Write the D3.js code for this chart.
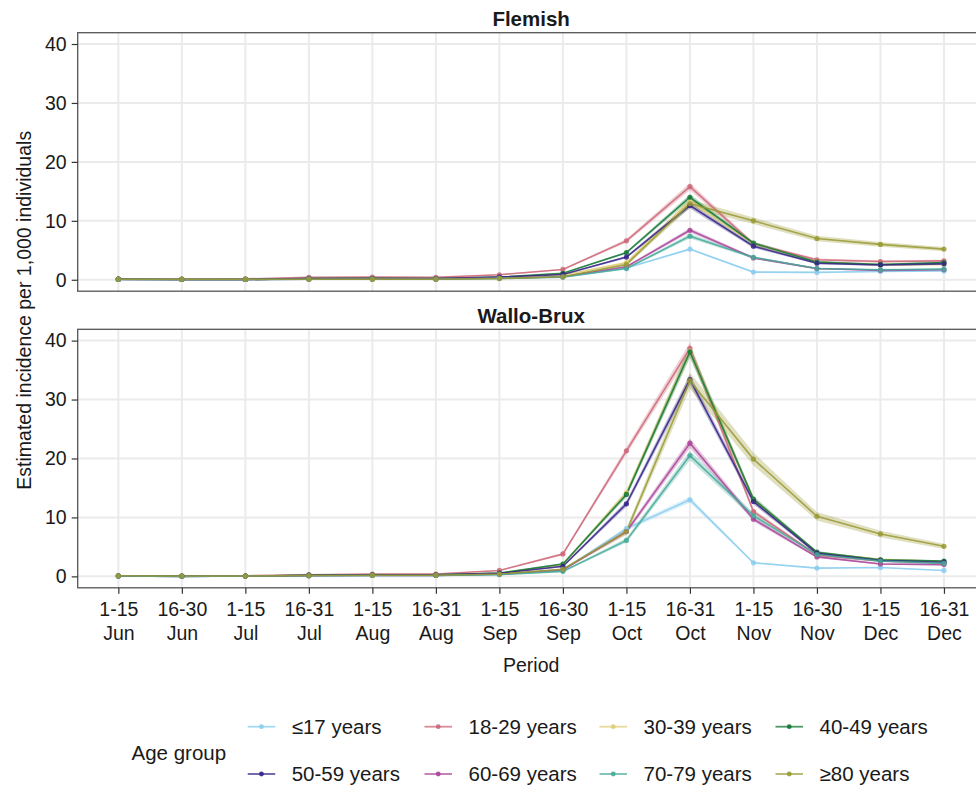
<!DOCTYPE html>
<html>
<head>
<meta charset="utf-8">
<script src="https://cdn.jsdelivr.net/npm/d3@7"></script>
<style>
  html, body { margin: 0; padding: 0; background: #fff; }
  svg { display: block; font-family: "Liberation Sans", Arial, Helvetica, sans-serif; }
</style>
</head>
<body>
<svg id="chart" width="976" height="787"></svg>
<script>
// Two-week periods (tick labels, two lines each)
const periods = ["1-15 Jun", "16-30 Jun", "1-15 Jul", "16-31 Jul", "1-15 Aug", "16-31 Aug",
                 "1-15 Sep", "16-30 Sep", "1-15 Oct", "16-31 Oct", "1-15 Nov", "16-30 Nov",
                 "1-15 Dec", "16-31 Dec"];
const regions = ["Flemish", "Wallo-Brux"];
const ageGroups = ["≤17 years", "18-29 years", "30-39 years", "40-49 years",
                   "50-59 years", "60-69 years", "70-79 years", "≥80 years"];
const yTicks = [0, 10, 20, 30, 40];

// Estimated incidence per 1,000, one array per age group (Flemish)
const flemish_u17   = [0.05, 0.05, 0.05, 0.10, 0.10, 0.10, 0.20, 0.50, 2.0, 5.2, 1.3, 1.25, 1.4, 1.5];
const flemish_18_29 = [0.10, 0.10, 0.15, 0.40, 0.45, 0.40, 0.85, 1.75, 6.6, 15.8, 6.1, 3.4, 3.1, 3.2];
const flemish_30_39 = [0.10, 0.05, 0.05, 0.20, 0.20, 0.20, 0.40, 0.80, 2.9, 13.3, 6.1, 3.0, 2.5, 2.6];
const flemish_40_49 = [0.10, 0.05, 0.05, 0.20, 0.25, 0.20, 0.45, 1.10, 4.6, 14.0, 6.2, 3.0, 2.6, 2.9];
const flemish_50_59 = [0.10, 0.05, 0.05, 0.20, 0.20, 0.20, 0.45, 0.90, 3.85, 12.6, 5.7, 2.8, 2.5, 2.7];
const flemish_60_69 = [0.05, 0.05, 0.05, 0.10, 0.15, 0.15, 0.30, 0.50, 2.2, 8.4, 3.7, 1.9, 1.6, 1.7];
const flemish_70_79 = [0.05, 0.05, 0.05, 0.10, 0.10, 0.10, 0.25, 0.45, 1.9, 7.4, 3.8, 1.9, 1.7, 1.8];
const flemish_80p   = [0.10, 0.10, 0.10, 0.10, 0.10, 0.10, 0.20, 0.50, 2.6, 12.9, 10.0, 7.0, 6.0, 5.2];

// Estimated incidence per 1,000, one array per age group (Wallo-Brux)
const wallo_u17   = [0.05, 0.00, 0.05, 0.10, 0.15, 0.15, 0.35, 1.00, 8.1, 13.0, 2.3, 1.4, 1.5, 1.0];
const wallo_18_29 = [0.10, 0.05, 0.10, 0.25, 0.40, 0.40, 1.00, 3.80, 21.3, 38.7, 11.0, 3.6, 2.6, 2.3];
const wallo_30_39 = [0.10, 0.05, 0.05, 0.20, 0.25, 0.25, 0.50, 2.00, 14.2, 38.2, 13.0, 4.0, 2.9, 2.5];
const wallo_40_49 = [0.10, 0.05, 0.05, 0.20, 0.25, 0.25, 0.55, 2.10, 13.9, 38.1, 13.1, 4.1, 2.8, 2.6];
const wallo_50_59 = [0.10, 0.05, 0.05, 0.20, 0.25, 0.25, 0.50, 1.70, 12.3, 33.4, 12.7, 3.9, 2.7, 2.4];
const wallo_60_69 = [0.05, 0.00, 0.05, 0.10, 0.15, 0.15, 0.35, 1.10, 7.6, 22.6, 9.7, 3.3, 2.1, 2.0];
const wallo_70_79 = [0.05, 0.00, 0.05, 0.10, 0.15, 0.15, 0.30, 0.85, 6.1, 20.5, 10.3, 3.7, 2.6, 2.2];
const wallo_80p   = [0.10, 0.05, 0.05, 0.15, 0.20, 0.20, 0.40, 1.20, 7.6, 33.2, 19.9, 10.2, 7.2, 5.1];

// Half-width of the uncertainty band around each estimate (Flemish)
const flemish_u17_ci   = [0.05, 0.05, 0.05, 0.05, 0.05, 0.05, 0.05, 0.05, 0.10, 0.20, 0.10, 0.10, 0.10, 0.10];
const flemish_18_29_ci = [0.05, 0.05, 0.05, 0.05, 0.05, 0.05, 0.10, 0.10, 0.30, 0.60, 0.30, 0.20, 0.20, 0.20];
const flemish_30_39_ci = [0.05, 0.05, 0.05, 0.05, 0.05, 0.05, 0.05, 0.10, 0.20, 0.50, 0.30, 0.20, 0.15, 0.15];
const flemish_40_49_ci = [0.05, 0.05, 0.05, 0.05, 0.05, 0.05, 0.05, 0.10, 0.20, 0.50, 0.30, 0.20, 0.15, 0.15];
const flemish_50_59_ci = [0.05, 0.05, 0.05, 0.05, 0.05, 0.05, 0.05, 0.10, 0.20, 0.50, 0.30, 0.15, 0.15, 0.15];
const flemish_60_69_ci = [0.05, 0.05, 0.05, 0.05, 0.05, 0.05, 0.05, 0.05, 0.15, 0.40, 0.20, 0.15, 0.10, 0.10];
const flemish_70_79_ci = [0.05, 0.05, 0.05, 0.05, 0.05, 0.05, 0.05, 0.05, 0.15, 0.40, 0.20, 0.15, 0.10, 0.10];
const flemish_80p_ci   = [0.05, 0.05, 0.05, 0.05, 0.05, 0.05, 0.05, 0.10, 0.25, 0.70, 0.55, 0.45, 0.40, 0.35];

// Half-width of the uncertainty band around each estimate (Wallo-Brux)
const wallo_u17_ci   = [0.05, 0.05, 0.05, 0.05, 0.05, 0.05, 0.05, 0.10, 0.30, 0.50, 0.15, 0.10, 0.10, 0.10];
const wallo_18_29_ci = [0.05, 0.05, 0.05, 0.05, 0.05, 0.05, 0.10, 0.20, 0.60, 1.00, 0.40, 0.20, 0.15, 0.15];
const wallo_30_39_ci = [0.05, 0.05, 0.05, 0.05, 0.05, 0.05, 0.05, 0.15, 0.50, 1.00, 0.50, 0.20, 0.15, 0.15];
const wallo_40_49_ci = [0.05, 0.05, 0.05, 0.05, 0.05, 0.05, 0.05, 0.15, 0.50, 1.00, 0.50, 0.20, 0.15, 0.15];
const wallo_50_59_ci = [0.05, 0.05, 0.05, 0.05, 0.05, 0.05, 0.05, 0.15, 0.50, 0.90, 0.50, 0.20, 0.15, 0.15];
const wallo_60_69_ci = [0.05, 0.05, 0.05, 0.05, 0.05, 0.05, 0.05, 0.10, 0.40, 0.80, 0.40, 0.20, 0.15, 0.15];
const wallo_70_79_ci = [0.05, 0.05, 0.05, 0.05, 0.05, 0.05, 0.05, 0.10, 0.40, 0.80, 0.50, 0.20, 0.20, 0.15];
const wallo_80p_ci   = [0.05, 0.05, 0.05, 0.05, 0.05, 0.05, 0.05, 0.15, 0.60, 1.40, 1.10, 0.70, 0.55, 0.45];

// Paul Tol "muted" palette, one colour per age group
const palette = ["#88CCEE", "#CC6677", "#DDCC77", "#117733",
                 "#332288", "#AA4499", "#44AA99", "#999933"];

const seriesByRegion = {
  "Flemish": [flemish_u17, flemish_18_29, flemish_30_39, flemish_40_49,
              flemish_50_59, flemish_60_69, flemish_70_79, flemish_80p],
  "Wallo-Brux": [wallo_u17, wallo_18_29, wallo_30_39, wallo_40_49,
                 wallo_50_59, wallo_60_69, wallo_70_79, wallo_80p]
};
const ciByRegion = {
  "Flemish": [flemish_u17_ci, flemish_18_29_ci, flemish_30_39_ci, flemish_40_49_ci,
              flemish_50_59_ci, flemish_60_69_ci, flemish_70_79_ci, flemish_80p_ci],
  "Wallo-Brux": [wallo_u17_ci, wallo_18_29_ci, wallo_30_39_ci, wallo_40_49_ci,
                 wallo_50_59_ci, wallo_60_69_ci, wallo_70_79_ci, wallo_80p_ci]
};

// ---- layout ----
const svg = d3.select("#chart");
const panelLeft = 77.7, panelRight = 984.6;
const panelTops = [32.7, 329.3];
const panelH = 258.5;
const tickFont = 19.5, titleFont = 19.5, legendFont = 20.5, stripFont = 20.5;

const x = d3.scalePoint().domain(periods).range([panelLeft, panelRight]).padding(0.64);
const color = d3.scaleOrdinal().domain(ageGroups).range(palette);

svg.append("defs").selectAll("clipPath")
  .data(panelTops).join("clipPath")
  .attr("id", (d, i) => "clip" + i)
  .append("rect")
  .attr("x", panelLeft).attr("y", d => d)
  .attr("width", panelRight - panelLeft).attr("height", panelH);

regions.forEach((region, pi) => {
  const top = panelTops[pi];
  const bottom = top + panelH;
  const y = d3.scaleLinear().domain([-1.94, 41.92]).range([bottom, top]);
  const g = svg.append("g");

  // panel background and grid
  g.append("rect").attr("x", panelLeft).attr("y", top)
    .attr("width", panelRight - panelLeft).attr("height", panelH).attr("fill", "#fff");

  const grid = g.append("g").attr("clip-path", `url(#clip${pi})`);
  grid.selectAll("line.h").data(yTicks).join("line")
    .attr("x1", panelLeft).attr("x2", panelRight)
    .attr("y1", d => y(d)).attr("y2", d => y(d))
    .attr("stroke", "#EBEBEB").attr("stroke-width", 2);
  grid.selectAll("line.v").data(periods).join("line")
    .attr("y1", top).attr("y2", bottom)
    .attr("x1", d => x(d)).attr("x2", d => x(d))
    .attr("stroke", "#EBEBEB").attr("stroke-width", 2);

  const series = seriesByRegion[region].map((vals, gi) => ({
    group: ageGroups[gi],
    pts: vals.map((v, i) => ({ p: periods[i], v, ci: ciByRegion[region][gi][i] }))
  }));

  const plot = g.append("g").attr("clip-path", `url(#clip${pi})`);

  // uncertainty ribbons
  const area = d3.area()
    .x(d => x(d.p))
    .y0(d => y(Math.max(0, d.v - d.ci)))
    .y1(d => y(d.v + d.ci));
  plot.selectAll("path.ribbon").data(series).join("path")
    .attr("class", "ribbon")
    .attr("d", d => area(d.pts))
    .attr("fill", d => color(d.group))
    .attr("fill-opacity", 0.3);

  // lines
  const line = d3.line().x(d => x(d.p)).y(d => y(d.v));
  plot.selectAll("path.line").data(series).join("path")
    .attr("class", "line")
    .attr("d", d => line(d.pts))
    .attr("fill", "none")
    .attr("stroke", d => color(d.group))
    .attr("stroke-width", 1.6)
    .attr("stroke-opacity", 0.85);

  // points
  series.forEach(s => {
    plot.append("g").selectAll("circle").data(s.pts).join("circle")
      .attr("cx", d => x(d.p)).attr("cy", d => y(d.v))
      .attr("r", 2.6)
      .attr("fill", color(s.group))
      .attr("fill-opacity", 0.85);
  });

  // panel border
  g.append("rect").attr("x", panelLeft).attr("y", top)
    .attr("width", panelRight - panelLeft).attr("height", panelH)
    .attr("fill", "none").attr("stroke", "#555").attr("stroke-width", 1.3);

  // strip label
  g.append("text")
    .attr("x", (panelLeft + panelRight) / 2).attr("y", top - 6.5)
    .attr("text-anchor", "middle")
    .attr("font-size", stripFont).attr("font-weight", "bold")
    .attr("fill", "#1a1a1a")
    .text(region);

  // y axis
  const yAxis = d3.axisLeft(y).tickValues(yTicks).tickSize(6).tickPadding(5);
  const ya = g.append("g").attr("transform", `translate(${panelLeft},0)`).call(yAxis);
  ya.select(".domain").remove();
  ya.selectAll(".tick line").attr("stroke", "#333").attr("stroke-width", 1.2);
  ya.selectAll(".tick text").attr("font-size", tickFont).attr("fill", "#1a1a1a")
    .attr("font-family", "Liberation Sans, Arial, sans-serif");

  // x axis on the bottom panel only
  if (pi === regions.length - 1) {
    const xAxis = d3.axisBottom(x).tickSize(6).tickFormat("");
    const xa = g.append("g").attr("transform", `translate(0,${bottom})`).call(xAxis);
    xa.select(".domain").remove();
    xa.selectAll(".tick line").attr("stroke", "#333").attr("stroke-width", 1.2);
    xa.selectAll(".tick").each(function (d) {
      const parts = d.split(" ");
      const t = d3.select(this).append("text")
        .attr("text-anchor", "middle")
        .attr("font-size", tickFont).attr("fill", "#1a1a1a")
        .attr("font-family", "Liberation Sans, Arial, sans-serif");
      t.append("tspan").attr("x", 0).attr("y", 28.4).text(parts[0]);
      t.append("tspan").attr("x", 0).attr("y", 51.8).text(parts[1]);
    });
  }
});

// axis titles
svg.append("text")
  .attr("x", (panelLeft + panelRight) / 2).attr("y", 671.5)
  .attr("text-anchor", "middle").attr("font-size", titleFont).attr("fill", "#1a1a1a")
  .text("Period");

svg.append("text")
  .attr("transform", `translate(31,${(panelTops[0] + panelTops[1] + panelH) / 2}) rotate(-90)`)
  .attr("text-anchor", "middle").attr("font-size", titleFont).attr("fill", "#1a1a1a")
  .text("Estimated incidence per 1,000 individuals");

// legend
const legend = svg.append("g");
legend.append("text")
  .attr("x", 131.5).attr("y", 752.7).attr("dy", "0.35em")
  .attr("font-size", legendFont).attr("fill", "#1a1a1a")
  .text("Age group");

const keyCols = [247.7, 424.5, 599.5, 775.5];
const keyRows = [726.7, 774];
ageGroups.forEach((grp, i) => {
  const kx = keyCols[i % 4], ky = keyRows[Math.floor(i / 4)];
  const k = legend.append("g");
  k.append("line").attr("x1", kx).attr("x2", kx + 27.5).attr("y1", ky).attr("y2", ky)
    .attr("stroke", color(grp)).attr("stroke-width", 1.8).attr("stroke-opacity", 0.75);
  k.append("circle").attr("cx", kx + 13.75).attr("cy", ky).attr("r", 2.4)
    .attr("fill", color(grp)).attr("fill-opacity", 0.9);
  k.append("text").attr("x", kx + 44).attr("y", ky).attr("dy", "0.35em")
    .attr("font-size", legendFont).attr("fill", "#1a1a1a")
    .text(grp);
});
</script>
</body>
</html>
